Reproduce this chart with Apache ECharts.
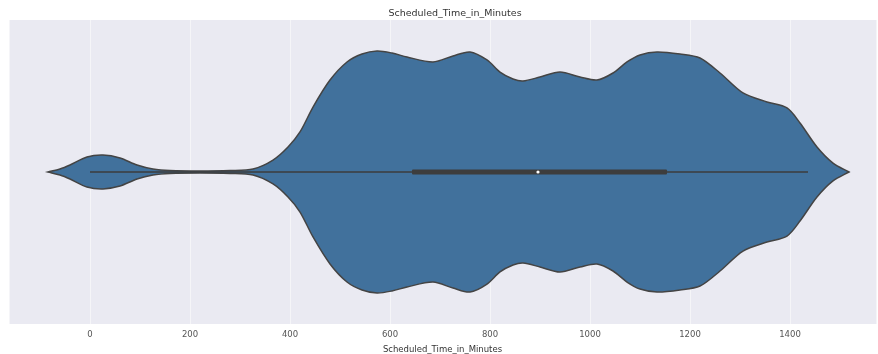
<!DOCTYPE html>
<html>
<head>
<meta charset="utf-8">
<script src="https://cdn.jsdelivr.net/npm/echarts@6/dist/echarts.min.js"></script>
<style>
  html, body { margin: 0; padding: 0; background: #ffffff; }
  #chart { width: 878px; height: 354px; }
</style>
</head>
<body>
<div id="chart"></div>
<script>
// Kernel density of scheduled time (minutes), relative to its peak
var densityX = [-84, -60, -40, -6, 26, 60, 94, 126, 160, 220, 280, 326, 366, 396, 420, 446, 480, 514, 544, 574, 604, 634, 686, 726, 760, 794, 820, 846, 866, 900, 940, 980, 1014, 1046, 1074, 1100, 1134, 1180, 1220, 1260, 1306, 1354, 1394, 1420, 1454, 1486, 1518];
var densityY = [0, 0.025, 0.058, 0.124, 0.14, 0.116, 0.058, 0.025, 0.012, 0.008, 0.012, 0.025, 0.099, 0.207, 0.331, 0.537, 0.76, 0.909, 0.975, 1, 0.983, 0.95, 0.909, 0.959, 0.992, 0.926, 0.826, 0.769, 0.752, 0.785, 0.826, 0.785, 0.76, 0.818, 0.909, 0.967, 0.992, 0.975, 0.942, 0.818, 0.653, 0.579, 0.529, 0.405, 0.207, 0.074, 0];

// Five-number summary drawn inside the violin
var whiskerMin = 0;
var quartile1 = 644;
var medianValue = 896;
var quartile3 = 1154;
var whiskerMax = 1436;

var chartTitle = 'Scheduled_Time_in_Minutes';
var axisName = 'Scheduled_Time_in_Minutes';

var violinFill = '#41719c';
var edgeColor = '#444444';

var chart = echarts.init(document.getElementById('chart'), null, { renderer: 'canvas' });

function renderViolin(params, api) {
  var upper = [];
  var lower = [];
  for (var i = 0; i < densityX.length; i++) {
    upper.push(api.coord([densityX[i], densityY[i]]));
  }
  for (var j = densityX.length - 1; j >= 0; j--) {
    lower.push(api.coord([densityX[j], -densityY[j]]));
  }
  return {
    type: 'polygon',
    shape: { points: upper.concat(lower), smooth: 0.3 },
    style: { fill: violinFill, stroke: edgeColor, lineWidth: 1.5 }
  };
}

function renderBox(params, api) {
  var wA = api.coord([whiskerMin, 0]);
  var wB = api.coord([whiskerMax, 0]);
  var qA = api.coord([quartile1, 0]);
  var qB = api.coord([quartile3, 0]);
  var m = api.coord([medianValue, 0]);
  return {
    type: 'group',
    children: [
      { type: 'line', shape: { x1: wA[0], y1: wA[1], x2: wB[0], y2: wB[1] },
        style: { stroke: '#3d3d3d', lineWidth: 1.5 } },
      { type: 'rect', shape: { x: qA[0], y: qA[1] - 2.5, width: qB[0] - qA[0], height: 5, r: 1 },
        style: { fill: '#3d3d3d' } },
      { type: 'circle', shape: { cx: m[0], cy: m[1], r: 1.6 },
        style: { fill: '#ffffff' } }
    ]
  };
}

chart.setOption({
  animation: false,
  backgroundColor: '#ffffff',
  title: {
    text: chartTitle,
    left: 450,
    top: 4,
    textAlign: 'center',
    textStyle: { fontFamily: 'DejaVu Sans', fontSize: 9.5, fontWeight: 'normal', color: '#333333' }
  },
  grid: {
    left: 9, right: 2, top: 20, bottom: 30,
    containLabel: false,
    outerBoundsMode: 'none',
    show: true, backgroundColor: '#eaeaf2', borderWidth: 0
  },
  xAxis: {
    type: 'value',
    min: -162,
    max: 1572,
    splitNumber: 8,
    name: axisName,
    nameLocation: 'middle',
    nameGap: 21,
    nameTextStyle: { fontFamily: 'DejaVu Sans', fontSize: 8.5, color: '#333333' },
    axisLine: { show: false },
    axisTick: { show: false },
    axisLabel: {
      showMinLabel: false, showMaxLabel: false,
      margin: 6,
      formatter: function (v) { return String(v); },
      fontFamily: 'DejaVu Sans', fontSize: 8.5, color: '#555555'
    },
    splitLine: { show: true, lineStyle: { color: '#f5f5f8', width: 1 } }
  },
  yAxis: {
    type: 'value',
    min: -1.256,
    max: 1.256,
    show: false,
    splitLine: { show: false }
  },
  series: [
    { type: 'custom', renderItem: renderViolin, data: [[0, 0]], silent: true, z: 2 },
    { type: 'custom', renderItem: renderBox, data: [[0, 0]], silent: true, z: 3 }
  ]
});
</script>
</body>
</html>
